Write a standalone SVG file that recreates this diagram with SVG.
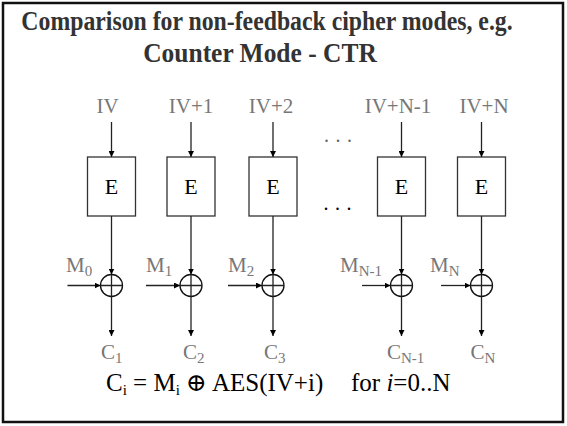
<svg xmlns="http://www.w3.org/2000/svg" width="567" height="426" viewBox="0 0 567 426">
  <style>
    text { font-family: "Liberation Serif", "Times New Roman", Tinos, "DejaVu Serif", serif; }
    .title { font-weight: bold; font-size: 27px; fill: #333; text-anchor: middle; }
    .lbl { font-size: 21px; fill: #777; }
    .mid { text-anchor: middle; }
    .e { font-size: 22px; fill: #000; text-anchor: middle; }
    .formula { font-size: 25px; fill: #000; }
    .dots { font-size: 20px; letter-spacing: 6.5px; }
    .sub { font-size: 15px; }
    .box { fill: #fff; stroke: #333; stroke-width: 1.3; }
    .xor { fill: none; stroke: #111; stroke-width: 1.3; }
    .wire { stroke: #222; stroke-width: 1.3; fill: none; }
    .arr { stroke: #222; stroke-width: 1.3; fill: none; marker-end: url(#head); }
  </style>
  <defs>
    <marker id="head" viewBox="0 0 10 10" refX="10" refY="5" markerWidth="6" markerHeight="6" markerUnits="userSpaceOnUse" orient="auto">
      <path d="M0,0 L10,5 L0,10 z" fill="#000"/>
    </marker>
  </defs>

  <rect x="0" y="0" width="567" height="426" fill="#fff"/>
  <rect x="3" y="3" width="560" height="419" fill="none" stroke="#111" stroke-width="2.5"/>

  <!-- condensed bold heading -->
  <g id="title">
    <text class="title" transform="translate(267,30) scale(0.88,1)">Comparison for non-feedback cipher modes, e.g.</text>
    <text class="title" transform="translate(260,61.5) scale(0.943,1)">Counter Mode - CTR</text>
  </g>

  <!-- counter inputs -->
  <g id="inputs">
    <text class="lbl mid" x="107.5" y="113">IV</text>
    <text class="lbl mid" x="191" y="113">IV+1</text>
    <text class="lbl mid" x="271" y="113">IV+2</text>
    <text class="lbl mid" x="398" y="113">IV+N-1</text>
    <text class="lbl mid" x="484" y="113">IV+N</text>
  </g>

  <g id="ellipsis">
    <text class="dots" x="324" y="142" fill="#666">...</text>
    <text class="dots" x="323.5" y="210" fill="#000">...</text>
  </g>

  <!-- encryption blocks -->
  <g id="E0"><rect class="box" x="87.5" y="157" width="48" height="59"/><text class="e" x="111.5" y="193.5">E</text></g>
  <g id="E1"><rect class="box" x="167" y="157" width="48" height="59"/><text class="e" x="191" y="193.5">E</text></g>
  <g id="E2"><rect class="box" x="249" y="157" width="48" height="59"/><text class="e" x="273" y="193.5">E</text></g>
  <g id="E3"><rect class="box" x="377.5" y="157" width="48" height="59"/><text class="e" x="401.5" y="193.5">E</text></g>
  <g id="E4"><rect class="box" x="457.5" y="157" width="48" height="59"/><text class="e" x="481.5" y="193.5">E</text></g>

  <!-- xor combiners -->
  <g id="X0"><circle class="xor" cx="111.5" cy="285.5" r="11"/><path class="wire" d="M100.5,285.5 H122.5 M111.5,274.5 V296.5"/></g>
  <g id="X1"><circle class="xor" cx="191" cy="285.5" r="11"/><path class="wire" d="M180,285.5 H202 M191,274.5 V296.5"/></g>
  <g id="X2"><circle class="xor" cx="273" cy="285.5" r="11"/><path class="wire" d="M262,285.5 H284 M273,274.5 V296.5"/></g>
  <g id="X3"><circle class="xor" cx="401.5" cy="285.5" r="11"/><path class="wire" d="M390.5,285.5 H412.5 M401.5,274.5 V296.5"/></g>
  <g id="X4"><circle class="xor" cx="481.5" cy="285.5" r="11"/><path class="wire" d="M470.5,285.5 H492.5 M481.5,274.5 V296.5"/></g>

  <!-- plaintext labels -->
  <g id="plaintexts">
    <text class="lbl" x="66" y="272">M<tspan class="sub" dy="4">0</tspan></text>
    <text class="lbl" x="146" y="272">M<tspan class="sub" dy="4">1</tspan></text>
    <text class="lbl" x="228" y="272">M<tspan class="sub" dy="4">2</tspan></text>
    <text class="lbl" x="340" y="272">M<tspan class="sub" dy="4">N-1</tspan></text>
    <text class="lbl" x="430" y="272">M<tspan class="sub" dy="4">N</tspan></text>
  </g>

  <!-- ciphertext labels -->
  <g id="ciphertexts">
    <text class="lbl" x="101" y="359">C<tspan class="sub" dy="4">1</tspan></text>
    <text class="lbl" x="183" y="359">C<tspan class="sub" dy="4">2</tspan></text>
    <text class="lbl" x="264" y="359">C<tspan class="sub" dy="4">3</tspan></text>
    <text class="lbl" x="387" y="359">C<tspan class="sub" dy="4">N-1</tspan></text>
    <text class="lbl" x="470.5" y="359">C<tspan class="sub" dy="4">N</tspan></text>
  </g>

  <g id="connectors">
    <!-- counter to block -->
    <path class="arr" d="M111.5,122 V157"/>
    <path class="arr" d="M191,122 V157"/>
    <path class="arr" d="M273,122 V157"/>
    <path class="arr" d="M401.5,122 V157"/>
    <path class="arr" d="M481.5,122 V157"/>
    <!-- block to xor -->
    <path class="arr" d="M111.5,216 V274.5"/>
    <path class="arr" d="M191,216 V274.5"/>
    <path class="arr" d="M273,216 V274.5"/>
    <path class="arr" d="M401.5,216 V274.5"/>
    <path class="arr" d="M481.5,216 V274.5"/>
    <!-- plaintext into xor -->
    <path class="arr" d="M67.5,285.5 H100.5"/>
    <path class="arr" d="M146,285.5 H180"/>
    <path class="arr" d="M228,285.5 H262"/>
    <path class="arr" d="M362,285.5 H390.5"/>
    <path class="arr" d="M441,285.5 H470.5"/>
    <!-- xor to ciphertext -->
    <path class="arr" d="M111.5,296.5 V336"/>
    <path class="arr" d="M191,296.5 V336"/>
    <path class="arr" d="M273,296.5 V336"/>
    <path class="arr" d="M401.5,296.5 V336"/>
    <path class="arr" d="M481.5,296.5 V336"/>
  </g>

  <g id="formula">
    <text class="formula" x="106" y="391">C<tspan class="sub" dy="4">i</tspan><tspan dy="-4"> = M</tspan><tspan class="sub" dy="4">i</tspan><tspan dy="-4"> ⊕ AES(IV+i)</tspan></text>
    <text class="formula" x="351" y="391">for <tspan font-style="italic">i</tspan>=0..N</text>
  </g>
</svg>
